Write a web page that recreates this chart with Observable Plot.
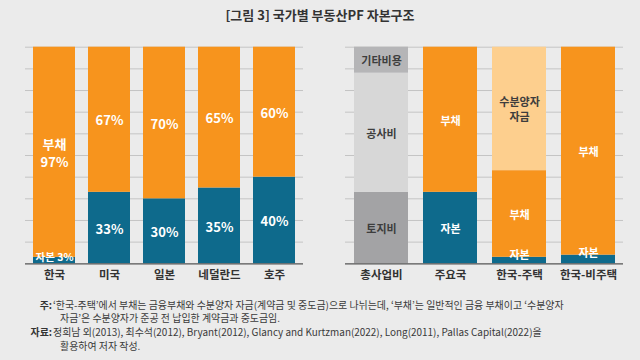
<!DOCTYPE html>
<html><head><meta charset="utf-8">
<script src="https://cdn.jsdelivr.net/npm/d3@7"></script>
<script src="https://cdn.jsdelivr.net/npm/@observablehq/plot@0.6"></script>
<style>
html,body{margin:0;padding:0;background:#ebebeb;}
#wrap{position:relative;width:640px;height:360px;background:#ebebeb;font-family:"Noto Sans CJK KR","Noto Sans",sans-serif;overflow:hidden;}
#title{position:absolute;left:0;top:6px;width:640px;text-align:center;font-size:13px;line-height:18px;font-weight:bold;color:#333;}
#left{position:absolute;left:0;top:30px;}
#right{position:absolute;left:320px;top:30px;}
.nl{position:absolute;font-size:9.95px;line-height:13px;color:#3a3a3a;white-space:nowrap;}
.lab{position:absolute;width:52px;text-align:right;font-weight:bold;font-size:9.95px;line-height:13px;color:#333;}
</style>
</head><body>
<div id="wrap">
  <div id="title">[그림 3] 국가별 부동산PF 자본구조</div>
  <div id="left"></div>
  <div id="right"></div>
  <div class="lab" style="left:0;top:297.5px">주:</div>
  <div class="nl" style="left:53px;top:297.5px">‘한국-주택’에서 부채는 금융부채와 수분양자 자금(계약금 및 중도금)으로 나뉘는데, ‘부채’는 일반적인 금융 부채이고 ‘수분양자</div>
  <div class="nl" style="left:60px;top:311px">자금’은 수분양자가 준공 전 납입한 계약금과 중도금임.</div>
  <div class="lab" style="left:0;top:325px">자료:</div>
  <div class="nl" style="left:53px;top:325px">정희남 외(2013), 최수석(2012), Bryant(2012), Glancy and Kurtzman(2022), Long(2011), Pallas Capital(2022)을</div>
  <div class="nl" style="left:60px;top:338.5px">활용하여 저자 작성.</div>
</div>
<script>
// ---- data ----
const countries = ["한국", "미국", "일본", "네덜란드", "호주"];
const equityShare = [3, 33, 30, 35, 40];
const debtShare = [97, 67, 70, 65, 60];
const equityLabels = ["자본 3%", "33%", "30%", "35%", "40%"];
const debtLabels = ["부채\n97%", "67%", "70%", "65%", "60%"];

const groups = ["총사업비", "주요국", "한국-주택", "한국-비주택"];
const costParts = ["토지비", "공사비", "기타비용"];
const costValues = [33, 55, 12];
const majorParts = ["자본", "부채"];
const majorValues = [33, 67];
const housingParts = ["자본", "부채", "수분양자 자금"];
const housingValues = [3, 40, 57];
const nonHousingParts = ["자본", "부채"];
const nonHousingValues = [4, 96];

const partNames = ["자본", "부채", "수분양자 자금", "토지비", "공사비", "기타비용"];
const partColors = ["#0e6a8c", "#f7941d", "#fdcf8e", "#a3a3a5", "#d7d7d7", "#b5b5b7"];
const yTicks = [10, 20, 30, 40, 50, 60, 70, 80, 90, 100];

// ---- build stacked rows ----
function stackRows(cat, parts, values, labels) {
  let acc = 0;
  return parts.map((p, i) => {
    const y1 = acc, y2 = acc + values[i];
    acc = y2;
    return {cat, part: p, value: values[i], y1, y2, mid: (y1 + y2) / 2, label: labels[i]};
  });
}
const leftRows = countries.flatMap((c, i) =>
  stackRows(c, ["자본", "부채"], [equityShare[i], debtShare[i]], [equityLabels[i], debtLabels[i]]));
const rightRows = [
  ...stackRows(groups[0], costParts, costValues, costParts),
  ...stackRows(groups[1], majorParts, majorValues, majorParts),
  ...stackRows(groups[2], housingParts, housingValues, housingParts.map(p => p.replace(" ", "\n"))),
  ...stackRows(groups[3], nonHousingParts, nonHousingValues, nonHousingParts)
];

const font = '"Noto Sans CJK KR", "Noto Sans", sans-serif';
const darkParts = new Set(["토지비", "공사비", "기타비용", "수분양자 자금"]);

function chart(rows, domain, pad, smallDy, bigSize, smallSize) {
  return Plot.plot({
    width: 320, height: 260,
    marginTop: 16.7, marginBottom: 26.7, marginLeft: 25, marginRight: 17,
    style: {background: "transparent", fontFamily: font},
    x: {domain, paddingInner: pad, paddingOuter: pad / 2, axis: null, label: null},
    y: {domain: [0, 100], axis: null},
    color: {domain: partNames, range: partColors},
    marks: [
      Plot.ruleY(yTicks, {stroke: "#c4c4c4", strokeWidth: 1}),
      Plot.barY(rows, {x: "cat", y1: "y1", y2: "y2", fill: "part"}),
      Plot.ruleY([0], {stroke: "#555", strokeWidth: 1.3}),
      Plot.text(rows.filter(d => d.value >= 10 && !darkParts.has(d.part)),
        {x: "cat", y: "mid", text: "label", fill: "white", fontWeight: "bold", fontSize: bigSize, lineHeight: 1.35}),
      Plot.text(rows.filter(d => d.value >= 10 && darkParts.has(d.part)),
        {x: "cat", y: "mid", text: "label", fill: "#3d3d3d", fontWeight: "bold", fontSize: 11, lineHeight: 1.36}),
      Plot.text(rows.filter(d => d.value < 10),
        {x: "cat", y: "mid", text: "label", fill: "white", fontWeight: "bold", fontSize: smallSize, dy: smallDy}),
      Plot.axisX({tickSize: 0, tickPadding: 7, fontSize: 11.5, fontWeight: "bold", fill: "#333", label: null})
    ]
  });
}

document.getElementById("left").appendChild(chart(leftRows, countries, 0.236, -3, 13, 10.5));
document.getElementById("right").appendChild(chart(rightRows, groups, 0.224, -5.5, 11, 11));
</script>
</body></html>
